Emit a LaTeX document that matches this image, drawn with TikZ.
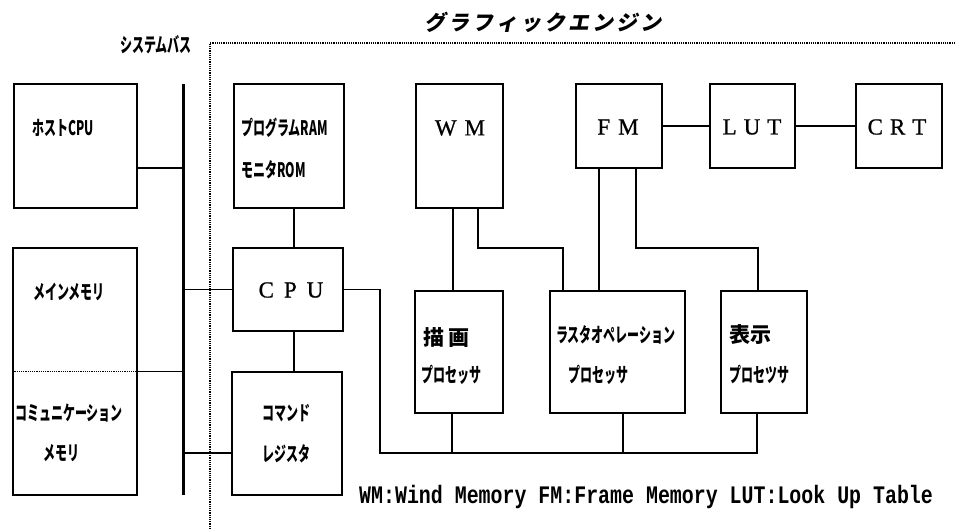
\documentclass[tikz,border=0pt]{standalone}
\usepackage{fontspec}
\setmainfont{Liberation Serif}
\newfontfamily\jp{Noto Sans CJK JP}
\newfontfamily\jpn{Noto Sans CJK JP}[FakeStretch=0.6]
\newfontfamily\jpsl{Noto Sans CJK JP}[FakeSlant=0.2, LetterSpace=15]
\newfontfamily\lserif{Liberation Serif}[FakeBold=0.8]
\newfontfamily\legendfont{Liberation Mono}
\tikzset{
  box/.style={draw, line width=1.5pt, rectangle, inner sep=0pt},
  wire/.style={line width=1.5pt},
  frameline/.style={line width=1.2pt, dash pattern=on 1.2pt off 1pt},
  jt/.style={font=\jpn\bfseries\fontsize{20}{20}\selectfont, inner sep=0pt, anchor=west},
  kj/.style={font=\jp\bfseries\fontsize{21}{21}\selectfont, inner sep=0pt, anchor=west},
  lt/.style={font=\lserif\fontsize{23}{23}\selectfont, inner sep=0pt},
}
\begin{document}
\begin{tikzpicture}[x=1pt,y=-1pt]
\useasboundingbox (0,0) rectangle (955,531);
% boxes
\node[box, minimum width=123pt, minimum height=124pt] (host) at (75.5,146) {};
\node[box, minimum width=124pt, minimum height=247pt] (mem) at (75,371.5) {};
\node[box, minimum width=110pt, minimum height=124pt] (prog) at (289,146) {};
\node[box, minimum width=110pt, minimum height=83pt] (cpu) at (288,289.5) {};
\node[box, minimum width=110pt, minimum height=123pt] (cmd) at (287,433.5) {};
\node[box, minimum width=87pt, minimum height=124pt] (wm) at (459.5,146) {};
\node[box, minimum width=86pt, minimum height=84pt] (fm) at (619,126) {};
\node[box, minimum width=85pt, minimum height=84pt] (lut) at (752.5,126) {};
\node[box, minimum width=86pt, minimum height=84pt] (crt) at (899,126) {};
\node[box, minimum width=88pt, minimum height=122pt] (draw) at (459,352) {};
\node[box, minimum width=135pt, minimum height=122pt] (raster) at (617.5,352) {};
\node[box, minimum width=86pt, minimum height=122pt] (disp) at (764,352) {};
% system bus
\node[fill=black, inner sep=0pt, minimum width=3pt, minimum height=411pt] (bus) at (183,289.5) {};
% graphic engine frame
\draw[frameline] (955,43) -- (210,43) -- (210,528);
\draw[frameline] (mem.west) -- (mem.east);
% connectors
\draw[wire] (host.east |- 0,168) -- (bus.center |- 0,168);
\draw[wire] (mem.east) -- (bus.center |- mem.east);
\draw[wire] (bus.center |- cpu.west) -- (cpu.west);
\draw[wire] (bus.center |- 0,453) -- (cmd.west |- 0,453);
\draw[wire] (294,0 |- prog.south) -- (294,0 |- cpu.north);
\draw[wire] (294,0 |- cpu.south) -- (294,0 |- cmd.north);
\draw[wire] (cpu.east) -| (380,453) -- (757,453) -- (757,0 |- disp.south);
\draw[wire] (452,453) -- (452,0 |- draw.south);
\draw[wire] (623,453) -- (623,0 |- raster.south);
\draw[wire] (453,0 |- wm.south) -- (453,0 |- draw.north);
\draw[wire] (478,0 |- wm.south) -- (478,248) -| (563,0 |- raster.north);
\draw[wire] (599,0 |- fm.south) -- (599,0 |- raster.north);
\draw[wire] (636,0 |- fm.south) -- (636,248) -| (758,0 |- disp.north);
\draw[wire] (fm.east) -- (lut.west);
\draw[wire] (lut.east) -- (crt.west);
% texts
\node[font=\jpsl\bfseries\fontsize{21}{21}\selectfont, inner sep=0pt] (title) at (543,22) {グラフィックエンジン};
\node[jt, anchor=center] (busT) at (156,45) {システムバス};
\node[jt] (hostT) at (32,128) {ホストCPU};
\node[jt] (progT1) at (241,128) {プログラムRAM};
\node[jt] (progT2) at (241,170) {モニタROM};
\node[jt] (memT1) at (33,292) {メインメモリ};
\node[jt] (memT2) at (15,413) {コミュニケーション};
\node[jt] (memT3) at (43,453) {メモリ};
\node[jt] (cmdT1) at (262,413) {コマンド};
\node[jt] (cmdT2) at (262,454) {レジスタ};
\node[kj] (drawT1) at (423,338) {描\hspace{4pt}画};
\node[jt] (drawT2) at (421,375) {プロセッサ};
\node[jt] (rasT1) at (556,335) {ラスタオペレーション};
\node[jt] (rasT2) at (568,375) {プロセッサ};
\node[kj] (dispT1) at (729,335) {表示};
\node[jt] (dispT2) at (729,375) {プロセツサ};
\node[lt] (wmT) at (460,128) {W\hspace{8pt}M};
\node[lt] (fmT) at (618,127) {F\hspace{8pt}M};
\node[lt] (lutT) at (752,127) {L\hspace{7pt}U\hspace{7pt}T};
\node[lt] (crtT) at (897,127) {C\hspace{7pt}R\hspace{7pt}T};
\node[lt] (cpuT) at (291,290) {C\hspace{10pt}P\hspace{10pt}U};
\node[inner sep=0pt, anchor=west] (legend) at (359,497) {\scalebox{0.83}[1.05]{\legendfont\bfseries\fontsize{24}{24}\selectfont WM:Wind Memory FM:Frame Memory LUT:Look Up Table}};
\end{tikzpicture}
\end{document}
